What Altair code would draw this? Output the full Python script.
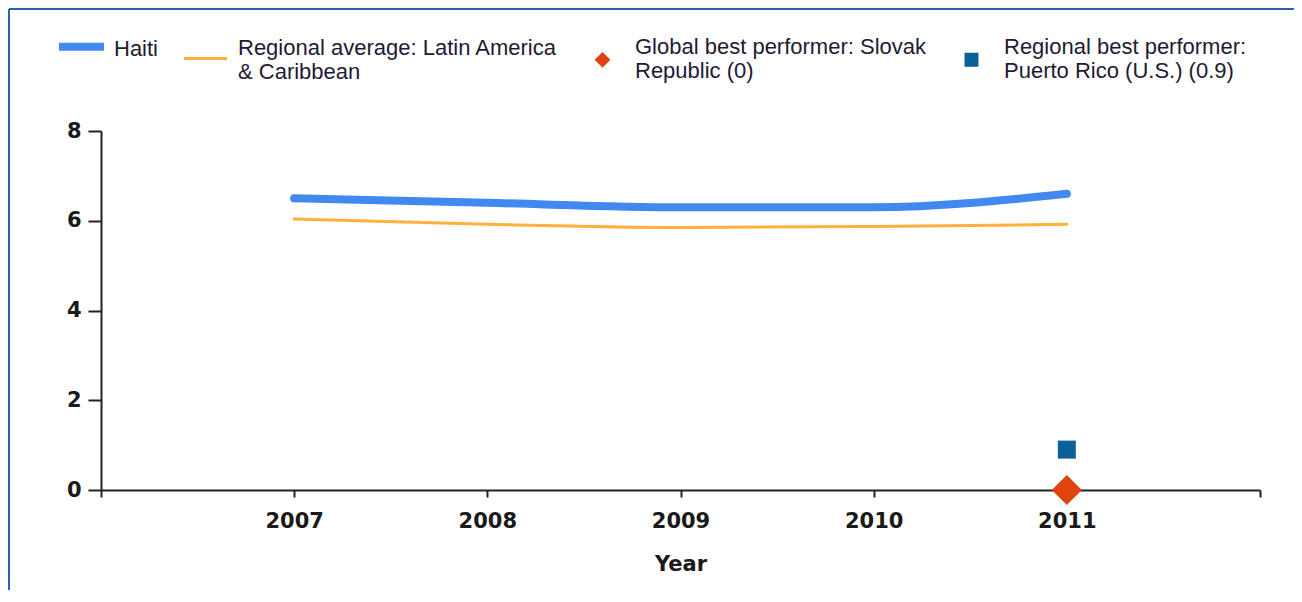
import altair as alt
import pandas as pd

# ---- data ----
years = [2007, 2008, 2009, 2010, 2011]
haiti_values = [6.5, 6.4, 6.3, 6.3, 6.6]
regional_avg_values = [6.04, 5.92, 5.85, 5.87, 5.92]

best_years = [2011, 2011]
best_values = [0.0, 0.9]

series_names = [
    "Haiti|",
    "Regional average: Latin America|& Caribbean",
    "Global best performer: Slovak|Republic (0)",
    "Regional best performer:|Puerto Rico (U.S.)  (0.9)",
]
series_colors = ["#4189EE", "#FFB13C", "#E0440E", "#0B6096"]
x_ticks = [2006, 2007, 2008, 2009, 2010, 2011, 2012]
y_ticks = [0, 2, 4, 6, 8]

# ---- tables ----
line_df = pd.DataFrame({
    "year": years + years,
    "value": haiti_values + regional_avg_values,
    "series": [series_names[0]] * len(years) + [series_names[1]] * len(years),
})
point_df = pd.DataFrame({
    "year": best_years,
    "value": best_values,
    "series": series_names[2:],
})

# legend / marker shapes (unit paths, scaled by the symbol size)
haiti_shape = "M-1,-0.67L1,-0.67"
regional_shape = "M-0.96,-0.09L0.96,-0.09"
diamond_path = "M-0.35,0L0,-0.35L0.35,0L0,0.35Z"
square_path = "M-0.311,-0.311L0.311,-0.311L0.311,0.311L-0.311,0.311Z"

W, H = 1159, 359
PAD_L, PAD_T, PAD_R, PAD_B = 93, 123, 34, 100

legend = alt.Legend(
    title=None, orient="none", legendX=-46, legendY=-96,
    direction="horizontal", columns=4, padding=0,
    symbolSize=2025, labelOffset=6, columnPadding=18, rowPadding=0,
    labelFont="Liberation Sans", labelFontSize=22, labelColor="#231a33",
    labelBaseline="line-bottom",
    labelLimit=500, labelExpr="split(datum.label, '|')",
)

x_scale = alt.Scale(domain=[2006, 2012], nice=False, zero=False)
y_scale = alt.Scale(domain=[0, 8], nice=False, zero=False)

x_axis = alt.Axis(
    values=x_ticks, format="d",
    labelExpr="datum.value == 2006 || datum.value == 2012 ? '' : datum.label",
    grid=False, tickSize=7, tickWidth=2, domainWidth=2,
    domainColor="#222222", tickColor="#222222",
    labelFont="DejaVu Sans", labelFontWeight="bold", labelFontSize=21,
    labelColor="#1a1a1a", labelPadding=13, labelOverlap=False, labelFlush=False,
    title="Year", titleFont="DejaVu Sans", titleFontWeight="bold",
    titleFontSize=21, titleColor="#1a1a1a", titlePadding=22,
)
y_axis = alt.Axis(
    values=y_ticks, grid=False, tickSize=13, tickWidth=2, domainWidth=2,
    domainColor="#222222", tickColor="#222222",
    labelFont="DejaVu Sans", labelFontWeight="bold", labelFontSize=21,
    labelColor="#1a1a1a", labelPadding=7, title=None,
)

color_domain = series_names

lines = alt.Chart(line_df).mark_line(interpolate="monotone", strokeCap="round").encode(
    x=alt.X("year:Q", scale=x_scale, axis=x_axis),
    y=alt.Y("value:Q", scale=y_scale, axis=y_axis),
    stroke=alt.Stroke("series:N", scale=alt.Scale(domain=color_domain, range=series_colors), legend=legend),
    strokeWidth=alt.StrokeWidth("series:N", scale=alt.Scale(type="ordinal", domain=color_domain, range=[8, 3, 0, 0]), legend=legend),
)

points = alt.Chart(point_df).mark_point(filled=True, opacity=1, strokeWidth=0).encode(
    x=alt.X("year:Q", scale=x_scale, axis=x_axis),
    y=alt.Y("value:Q", scale=y_scale, axis=y_axis),
    fill=alt.Fill("series:N", scale=alt.Scale(domain=color_domain, range=series_colors), legend=legend),
    shape=alt.Shape("series:N", scale=alt.Scale(domain=color_domain, range=[haiti_shape, regional_shape, diamond_path, square_path]), legend=legend),
    size=alt.Size("series:N", scale=alt.Scale(type="ordinal", domain=series_names[2:], range=[7350, 3350]), legend=None),
)

frame_df = pd.DataFrame({"k": [0]})
top_border = alt.Chart(frame_df).mark_rule(color="#2A63AD", strokeWidth=2).encode(
    x=alt.value(-92), x2=alt.value(W + PAD_R), y=alt.value(-122)
)
left_border = alt.Chart(frame_df).mark_rule(color="#2A63AD", strokeWidth=2).encode(
    x=alt.value(-92), y=alt.value(-122), y2=alt.value(H + PAD_B)
)

chart = alt.layer(lines, points, top_border, left_border).properties(
    width=W, height=H,
    background="white",
    autosize=alt.AutoSizeParams(type="none"),
    padding={"left": PAD_L, "top": PAD_T, "right": PAD_R, "bottom": PAD_B},
).configure(
    style={"guide-label": {"lineHeight": 24}},
).configure_view(stroke=None)

chart.save("out.html", embed_options={"renderer": "svg", "actions": False})
